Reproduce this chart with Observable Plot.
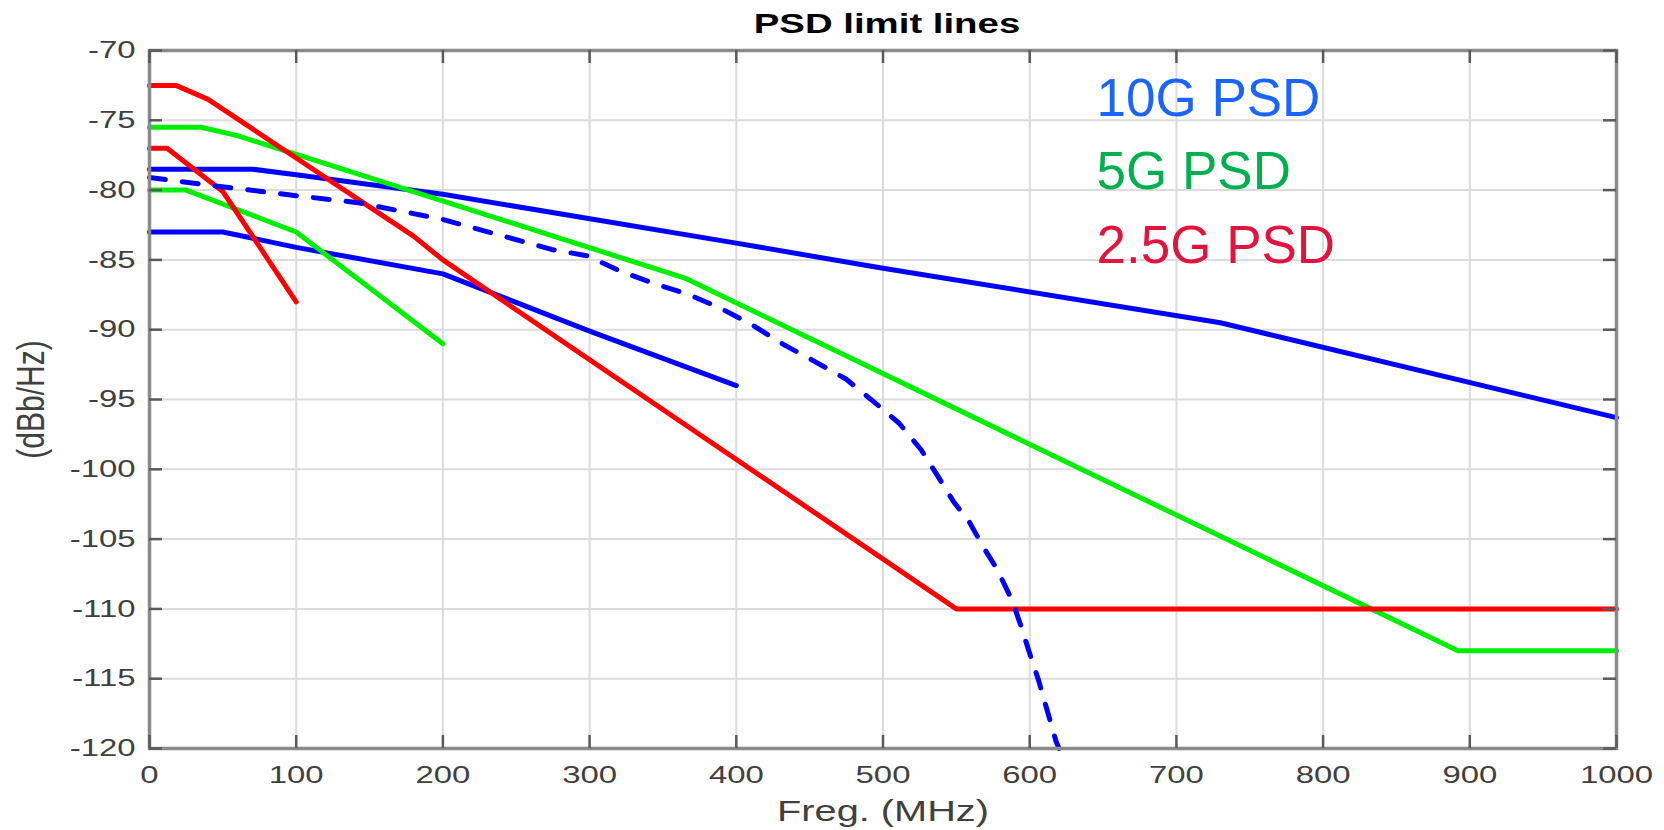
<!DOCTYPE html>
<html><head><meta charset="utf-8">
<script src="https://cdn.jsdelivr.net/npm/d3@7"></script>
<script src="https://cdn.jsdelivr.net/npm/@observablehq/plot@0.6"></script>
<style>html,body{margin:0;padding:0;background:#fff;} #chart{width:1664px;height:830px;overflow:hidden;}</style>
</head><body><div id="chart"></div>
<script>
// ---- data ----
const xTicks = [0,100,200,300,400,500,600,700,800,900,1000];
const yTicks = [-70,-75,-80,-85,-90,-95,-100,-105,-110,-115,-120];

const g10UpperF = [0,70,100,200,400,500,730,1000];
const g10UpperP = [-78.5,-78.5,-78.9,-80.3,-83.8,-85.6,-89.5,-96.3];
const g10LowerF = [0,50,100,200,300,400];
const g10LowerP = [-83,-83,-84.1,-86,-90.1,-94];
const g5UpperF = [0,35,60,365,892,1000];
const g5UpperP = [-75.5,-75.5,-76.1,-86.3,-113,-113];
const g5LowerF = [0,25,100,200];
const g5LowerP = [-80,-80,-83,-91];
const g25UpperF = [0,18,40,70,100,140,180,200,550,1000];
const g25UpperP = [-72.5,-72.5,-73.5,-75.6,-77.7,-80.5,-83.3,-85,-110,-110];
const g25LowerF = [0,12,50,100];
const g25LowerP = [-77,-77,-80.1,-88];
const g10DashF = [0,45,100,142,200,274,298,321,344,368,388,410,432,453,475,493,511,526,538,548,559,568,578,588,594,600,606,612,618,620];
const g10DashP = [-79.1,-79.7,-80.4,-80.9,-82.1,-84.25,-84.7,-85.8,-86.7,-87.5,-88.4,-89.6,-91.05,-92.25,-93.55,-95.1,-96.7,-98.6,-100.6,-102.3,-103.8,-105.5,-107.2,-109.4,-111.2,-113.2,-115.1,-117.3,-119.5,-120];

const titleText = "PSD limit lines";
const xLabelText = "Freg. (MHz)";
const yLabelText = "(dBb/Hz)";
const legendLabels = ["10G PSD","5G PSD","2.5G PSD"];
const legendColors = ["#1a64ff","#00b04f","#e0143c"];

// ---- build tables ----
function rowsOf(name, F, P){ return F.map((f,i)=>({series:name, f, p:P[i]})); }
const blueRows  = [...rowsOf("10G upper", g10UpperF, g10UpperP), ...rowsOf("10G lower", g10LowerF, g10LowerP)];
const greenRows = [...rowsOf("5G upper", g5UpperF, g5UpperP), ...rowsOf("5G lower", g5LowerF, g5LowerP)];
const redRows   = [...rowsOf("2.5G upper", g25UpperF, g25UpperP), ...rowsOf("2.5G lower", g25LowerF, g25LowerP)];
const dashRows  = rowsOf("10G dashed", g10DashF, g10DashP);

const W = 1664, H = 830, mL = 149, mR = 48, mT = 50, mB = 82;
const plotW = W - mL - mR, plotH = H - mT - mB;
const tickLen = 13;
const fmt = d => String(d);

const legendBaselines = [65, 138, 212];

const chart = Plot.plot({
  width: W, height: H,
  marginLeft: mL, marginRight: mR, marginTop: mT, marginBottom: mB,
  style: {fontFamily: "'Liberation Sans', Arial, sans-serif", background: "#ffffff", overflow: "visible"},
  x: {domain: [0, 1000], label: null},
  y: {domain: [-120, -70], label: null},
  marks: [
    Plot.gridX(xTicks, {stroke: "#dcdcdc", strokeOpacity: 1, strokeWidth: 2}),
    Plot.gridY(yTicks, {stroke: "#dcdcdc", strokeOpacity: 1, strokeWidth: 2}),
    Plot.line(blueRows, {x: "f", y: "p", z: "series", stroke: "#0000ff", strokeWidth: 5, strokeLinejoin: "round"}),
    Plot.line(greenRows, {x: "f", y: "p", z: "series", stroke: "#00ee00", strokeWidth: 5, strokeLinejoin: "round"}),
    Plot.line(redRows, {x: "f", y: "p", z: "series", stroke: "#ff0000", strokeWidth: 5, strokeLinejoin: "round"}),
    Plot.line(dashRows, {x: "f", y: "p", stroke: "#0000ff", strokeWidth: 5, strokeDasharray: "16,17", strokeLinejoin: "round"}),
    Plot.frame({stroke: "#8a8a8a", strokeWidth: 3.5}),
    Plot.ruleX(xTicks, {x: d => d, insetTop: plotH - tickLen, stroke: "#5a5a5a", strokeWidth: 2.5}),
    Plot.ruleX(xTicks, {x: d => d, insetBottom: plotH - tickLen, stroke: "#5a5a5a", strokeWidth: 2.5}),
    Plot.ruleY(yTicks, {y: d => d, insetRight: plotW - tickLen, stroke: "#5a5a5a", strokeWidth: 2.5}),
    Plot.ruleY(yTicks, {y: d => d, insetLeft: plotW - tickLen, stroke: "#5a5a5a", strokeWidth: 2.5}),
    Plot.axisX(xTicks, {anchor: "bottom", tickSize: 0, tickPadding: 17, fontSize: 24, color: "#404040", tickFormat: fmt, label: null}),
    Plot.axisY(yTicks, {anchor: "left", tickSize: 0, tickPadding: 14, fontSize: 24, color: "#404040", tickFormat: fmt, label: null}),
    Plot.text([titleText], {text: d => d, frameAnchor: "top", textAnchor: "middle", dx: 4, dy: -18, lineAnchor: "bottom", fontSize: 28, fontWeight: "bold", fill: "#000"}),
    Plot.text([xLabelText], {text: d => d, frameAnchor: "bottom", textAnchor: "middle", dy: 72, lineAnchor: "bottom", fontSize: 29, fill: "#404040"}),
    Plot.text([yLabelText], {text: d => d, frameAnchor: "left", textAnchor: "middle", dx: -106, rotate: -90, lineAnchor: "bottom", fontSize: 30, fill: "#404040"}),
    ...legendLabels.map((lab, i) => Plot.text([lab], {text: d => d, frameAnchor: "top-left", textAnchor: "start", lineAnchor: "bottom", dx: 947, dy: legendBaselines[i], fontSize: 53, fill: legendColors[i]}))
  ]
});

// the reference's chart text (not the legend) is horizontally stretched
const stretchSet = new Set([titleText, xLabelText, ...xTicks.map(fmt), ...yTicks.map(fmt)]);
d3.select(chart).selectAll("text").each(function(){
  const s = this.textContent.trim();
  const t = this.getAttribute("transform") || "";
  if (s === yLabelText) this.setAttribute("transform", t + " scale(1,1.3)");
  else if (stretchSet.has(s)) this.setAttribute("transform", t + " scale(1.37,1)");
});

document.getElementById("chart").appendChild(chart);
</script>
</body></html>
